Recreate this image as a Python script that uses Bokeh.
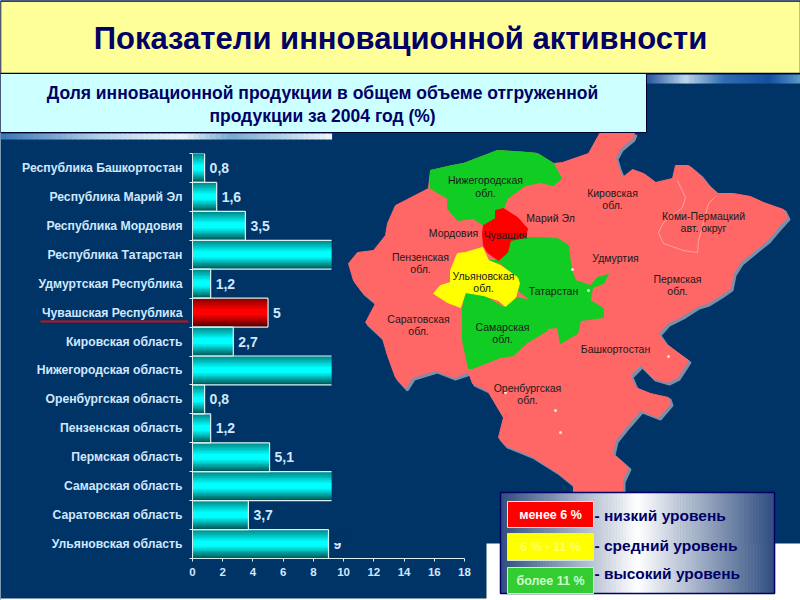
from bokeh.plotting import figure
from bokeh.embed import file_html
from bokeh.resources import INLINE
from bokeh.layouts import column
from bokeh.core.properties import value
from bokeh.models import Range1d, LinearAxis, FixedTicker, ColumnDataSource

# ---------- chart data ----------
regions = ["Республика Башкортостан", "Республика Марий Эл", "Республика Мордовия",
           "Республика Татарстан", "Удмуртская Республика", "Чувашская Республика",
           "Кировская область", "Нижегородская область", "Оренбургская область",
           "Пензенская область", "Пермская область", "Самарская область",
           "Саратовская область", "Ульяновская область"]
shares = [0.8, 1.6, 3.5, 9.2, 1.2, 5, 2.7, 9.2, 0.8, 1.2, 5.1, 9.2, 3.7, 9]
share_labels = ["0,8", "1,6", "3,5", "", "1,2", "5", "2,7", "", "0,8", "1,2", "5,1", "", "3,7", "9"]
highlight = "Чувашская Республика"
x_ticks = [0, 2, 4, 6, 8, 10, 12, 14, 16, 18]

title_text = "Показатели инновационной активности"
subtitle_lines = ["Доля инновационной продукции в общем объеме отгруженной",
                  "продукции за 2004 год (%)"]
legend_ranges = ["менее 6 %", "6 % - 11 %", "более 11 %"]
legend_levels = ["- низкий уровень", "- средний уровень", "- высокий уровень"]

# ---------- map outlines ----------
map_outer = [(599,133),(634,133),(632,138),(620,148),(615,157),(618,167),(622,177),(632,169),(643,173),
             (655,182),(672,178),(675,165),(688,165),(700,175),(708,185),(717,193),(733,193),(750,196),
             (763,202),(783,209),(787,217),(777,228),(767,240),(757,248),(740,262),(733,273),(730,288),
             (720,295),(707,303),(697,306),(683,315),(667,323),(658,333),(665,343),(677,352),(688,360),
             (683,368),(677,377),(667,382),(653,378),(640,365),(630,375),(635,387),(650,393),(668,397),
             (670,403),(658,417),(640,410),(627,425),(615,440),(612,453),(628,467),(622,480),(622,495),
             (573,495),(573,485),(557,472),(530,455),(505,445),(498,437),(503,417),(487,390),(472,383),
             (468,372),(453,377),(435,370),(412,377),(405,388),(395,377),(387,355),(382,338),(365,322),
             (375,303),(362,292),(353,280),(348,263),(357,252),(373,250),(385,235),(387,223),(395,205),
             (428,188),(430,170),(452,165),(463,163),(497,150),(527,152),(537,153),(553,163),(562,162),
             (588,153),(598,135)]
map_nizhny = [(430,170),(452,165),(463,163),(497,150),(527,152),(537,153),(553,163),(561,178),(553,185),
              (540,182),(525,185),(507,198),(503,208),(495,212),(495,218),(483,225),(473,218),(457,220),
              (447,208),(447,198),(430,188)]
map_chuvash = [(495,210),(503,208),(517,217),(527,228),(525,237),(510,240),(507,252),(498,260),(487,252),
               (483,245),(482,233),(483,225),(495,218)]
map_tatar = [(510,240),(525,237),(540,237),(557,238),(568,245),(570,263),(572,272),(575,280),(590,285),
             (597,277),(608,274),(603,283),(592,287),(590,300),(603,308),(603,317),(580,320),(577,333),
             (560,343),(557,327),(547,328),(543,307),(530,300),(518,290),(517,277),(500,263),(488,260),
             (498,260),(507,252)]
map_samara = [(465,292),(480,293),(503,307),(517,297),(543,303),(547,330),(527,342),(513,355),(500,357),
              (472,368),(468,368),(462,340),(462,308)]
map_ulyan = [(457,253),(465,252),(482,247),(488,260),(500,265),(517,277),(519,283),(515,297),(505,306),
             (498,300),(483,295),(465,292),(460,307),(447,302),(433,293),(440,285),(450,282),(450,270)]
map_komi_border = [(677,180),(685,197),(682,207),(663,222),(658,232),(663,243),(683,250),(697,252),
                   (698,240),(703,222),(708,203),(715,196)]
map_lakes = [(572,269),(588,290),(668,356),(555,410),(560,432),(505,392)]
map_labels = [("Нижегородская",485,179),("обл.",485,192),("Кировская",612,192),("обл.",612,204),
              ("Марий Эл",550,217),("Чувашия",505,234),("Мордовия",453,232),("Пензенская",420,256),
              ("обл.",420,268),("Удмуртия",615,257),("Ульяновская",483,275),("обл.",483,287),
              ("Татарстан",553,290),("Саратовская",418,318),("обл.",418,330),("Самарская",502,326),
              ("обл.",502,338),("Башкортостан",615,348),("Оренбургская",527,387),("обл.",527,399),
              ("Коми-Пермацкий",703,215),("авт. округ",703,227),("Пермская",677,278),("обл.",677,290)]

NAVY = "#003366"
LIGHT = "#cfe8ff"
FONT = "Liberation Sans"

# ---------- page layer (pixel coordinates of the slide) ----------
W, H = 800, 600
OFF = 0
bg = figure(width=W, height=H, x_range=Range1d(OFF, OFF + W), y_range=Range1d(OFF + H, OFF),
            toolbar_location=None, output_backend="svg", min_border=0, outline_line_color=None,
            x_axis_location=None, y_axis_location=None, background_fill_color=NAVY, tools="",
            frame_align=False)
bg.grid.visible = False


def lerp(a, b, t):
    return "#%02x%02x%02x" % tuple(int(a[i] + (b[i] - a[i]) * t) for i in range(3))


def hstrip(x0, x1, y0, y1, stops, n=60):
    xs0, xs1, cols = [], [], []
    for k in range(n):
        t = k / (n - 1)
        for j in range(len(stops) - 1):
            if stops[j][0] <= t <= stops[j + 1][0]:
                c = lerp(stops[j][1], stops[j + 1][1], (t - stops[j][0]) / (stops[j + 1][0] - stops[j][0]))
                break
        w = (x1 - x0) / n
        xs0.append(x0 + k * w)
        xs1.append(x0 + (k + 1) * w + 0.6)
        cols.append(c)
    bg.quad(left=xs0, right=xs1, top=[y0] * n, bottom=[y1] * n, fill_color=cols, line_color=None)


bg.quad(left=[486], right=[800], top=[543], bottom=[600], fill_color="white", line_color=None)
bg.quad(left=[0], right=[800], top=[598], bottom=[600], fill_color="white", line_color=None)

hstrip(646, 800, 74, 83, [(0, (40, 90, 160)), (0.25, (190, 215, 235)), (0.5, (50, 110, 180)),
                          (0.8, (20, 80, 160)), (1, (90, 150, 200))])
hstrip(0, 331, 133, 139, [(0, (60, 120, 180)), (0.3, (180, 210, 235)), (0.55, (235, 245, 250)),
                          (0.7, (120, 170, 210)), (1, (235, 245, 250))])

mx = [p[0] for p in map_outer]
my = [p[1] for p in map_outer]
bg.patch([x + 2 for x in mx], [y + 2 for y in my], fill_color="#7c8fa8", line_color="#7c8fa8", line_width=2)
bg.patch(mx, my, fill_color="#ff6666", line_color="#ff6666", line_width=1)
bg.line([p[0] for p in map_komi_border], [p[1] for p in map_komi_border], line_color="#ffa0a0", line_width=1)
for shape, col in [(map_nizhny, "#11cc22"), (map_tatar, "#11cc22"), (map_samara, "#11cc22"),
                   (map_ulyan, "#ffff00"), (map_chuvash, "#ff0000")]:
    bg.patch([p[0] for p in shape], [p[1] for p in shape], fill_color=col, line_color=col, line_width=1)
bg.scatter(x=[p[0] for p in map_lakes], y=[p[1] for p in map_lakes], size=3, fill_color="#f0e8e0", line_color=None)
bg.text(x=[m[1] for m in map_labels], y=[m[2] for m in map_labels], text=[m[0] for m in map_labels],
        text_font=value(FONT), text_font_size="10.5px", text_color="#1a1a1a",
        text_align="center", text_baseline="middle")

# title boxes
bg.quad(left=[0], right=[800], top=[0.5], bottom=[73], fill_color="#ffff99", line_color="#000033", line_width=1.5)
bg.quad(left=[0], right=[646], top=[73], bottom=[132], fill_color="#ccffff", line_color="#000033", line_width=1)
bg.text(x=[400], y=[38], text=[title_text], text_font=value(FONT), text_font_style="bold",
        text_font_size="31px", text_color="#000066", text_align="center", text_baseline="middle")
bg.text(x=[322, 322], y=[92, 115], text=subtitle_lines, text_font=value(FONT), text_font_style="bold",
        text_font_size="17.5px", text_color="#000066", text_align="center", text_baseline="middle")

# underline of highlighted region
bg.line([40, 188], [321, 321], line_color="#cc1111", line_width=2)

# legend
hstrip(500, 774, 492, 593, [(0, (50, 80, 130)), (0.5, (255, 255, 255)), (1, (50, 80, 130))], n=90)
bg.quad(left=[500], right=[774], top=[492], bottom=[593], fill_color=None, line_color="#000066", line_width=1.5)
ly0 = [501, 533, 567]
ly1 = [527, 560, 593]
bg.quad(left=[507] * 3, right=[593] * 3, top=ly0, bottom=ly1,
        fill_color=["#ff0000", "#ffff00", "#33cc33"], line_color="#d0e8e0", line_width=1)
bg.text(x=[550] * 3, y=[(a + b) / 2 for a, b in zip(ly0, ly1)], text=legend_ranges, text_font=value(FONT),
        text_font_style="bold", text_font_size="12.5px", text_color=["#ffffff", "#ffff66", "#ccffcc"],
        text_align="center", text_baseline="middle")
bg.text(x=[594] * 3, y=[515, 545, 573], text=legend_levels, text_font=value(FONT), text_font_style="bold",
        text_font_size="15.5px", text_color="#000066", text_align="left", text_baseline="middle")

# ---------- bar chart layer ----------
LEFT, RIGHT, TOP, BOTTOM = 192, 464, 153, 558
chart = figure(width=W, height=H, x_range=Range1d(0, 18), y_range=Range1d(len(regions), 0),
               toolbar_location=None, output_backend="svg", tools="", outline_line_color=None,
               min_border_left=LEFT - OFF, min_border_right=W - (RIGHT - OFF), min_border_top=TOP - OFF,
               min_border_bottom=H - (BOTTOM - OFF), background_fill_alpha=0, border_fill_alpha=0,
               margin=(-H, 0, 0, 0), frame_align=False)
chart.grid.visible = False

ys = [i + 0.5 for i in range(len(regions))]

# gradient of each bar
N = 20
STOPS = [(0.0, 0.50), (0.42, 1.0), (0.58, 1.0), (1.0, 0.32)]


def shade(t):
    for j in range(len(STOPS) - 1):
        a, b = STOPS[j], STOPS[j + 1]
        if a[0] <= t <= b[0]:
            return a[1] + (b[1] - a[1]) * (t - a[0]) / (b[0] - a[0])
    return 1.0


band_y, band_r, band_c = [], [], []
for r, y, v in zip(regions, ys, shares):
    for k in range(N):
        t = (k + 0.5) / N
        s = shade(t)
        band_y.append(y - 0.5 + t)
        band_r.append(v)
        band_c.append("#%02x0000" % int(255 * s) if r == highlight else "#00%02x%02x" % (int(255 * s), int(255 * s)))
chart.hbar(y="y", right="r", left=0, height=1.5 / N, fill_color="c", line_color=None,
           source=ColumnDataSource(dict(y=band_y, r=band_r, c=band_c)))

# outlines: top and bottom of every bar, right edge only where the bar is not cut off
EDGE = "#d8f0f0"
chart.segment(x0=[0] * len(ys) * 2, x1=shares * 2, y0=[y - 0.5 for y in ys] + [y + 0.5 for y in ys],
              y1=[y - 0.5 for y in ys] + [y + 0.5 for y in ys], line_color=EDGE, line_width=1.2)
closed = [(y, v) for y, v, l in zip(ys, shares, share_labels) if l]
chart.segment(x0=[c[1] for c in closed], x1=[c[1] for c in closed], y0=[c[0] - 0.5 for c in closed],
              y1=[c[0] + 0.5 for c in closed], line_color=EDGE, line_width=1.2)

chart.text(x=[c[1] for c in closed], y=[c[0] for c in closed], text=[l for l in share_labels if l],
           x_offset=5, text_font=value(FONT), text_font_style="bold", text_font_size="14px",
           text_color=LIGHT, text_align="left", text_baseline="middle")

# the last value label is half hidden in the reference
chart.quad(left=[9.3], right=[10.3], top=[13.0], bottom=[13.46], fill_color=NAVY, line_color=None)

xa = chart.xaxis[0]
xa.ticker = FixedTicker(ticks=x_ticks)
xa.minor_tick_line_color = None
xa.axis_line_color = EDGE
xa.major_tick_line_color = EDGE
xa.major_tick_in = 0
xa.major_tick_out = 3
xa.major_label_standoff = 6
xa.major_label_text_font = FONT
xa.major_label_text_font_style = "bold"
xa.major_label_text_font_size = "11.5px"
xa.major_label_text_color = LIGHT

ya = chart.yaxis[0]
ya.ticker = FixedTicker(ticks=list(range(len(regions) + 1)))
ya.minor_tick_line_color = None
ya.axis_line_color = EDGE
ya.major_tick_line_color = EDGE
ya.major_tick_in = 0
ya.major_tick_out = 3
ya.major_label_text_color = None
ya.major_label_text_font_size = "1px"
ya.major_label_standoff = 0

names = LinearAxis(ticker=FixedTicker(ticks=ys), major_label_overrides=dict(zip(ys, regions)))
names.axis_line_color = None
names.major_tick_line_color = None
names.minor_tick_line_color = None
names.major_label_standoff = 1
names.major_label_text_font = FONT
names.major_label_text_font_style = "bold"
names.major_label_text_font_size = "12.2px"
names.major_label_text_color = LIGHT
chart.add_layout(names, "left")

page = column(bg, chart, spacing=0)
open("out.html", "w").write(file_html(page, INLINE))
